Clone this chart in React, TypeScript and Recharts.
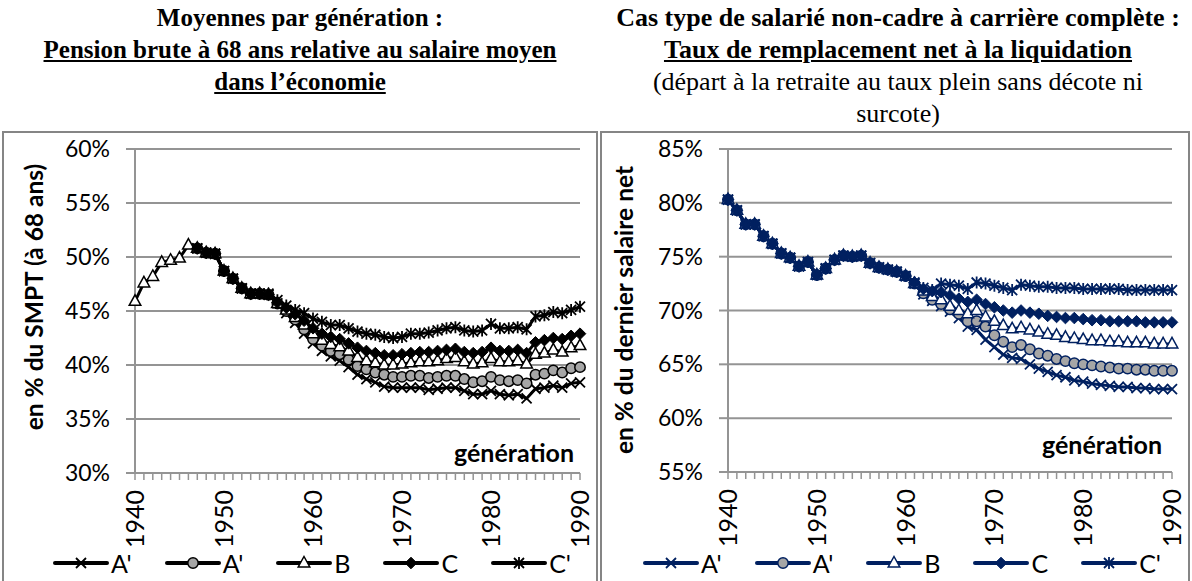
import React from 'react';
import { LineChart, Line, XAxis, YAxis, CartesianGrid, Legend, Label } from 'recharts';

// ---------- categories & ticks ----------
const years = [
  1940, 1941, 1942, 1943, 1944, 1945, 1946, 1947, 1948, 1949,
  1950, 1951, 1952, 1953, 1954, 1955, 1956, 1957, 1958, 1959,
  1960, 1961, 1962, 1963, 1964, 1965, 1966, 1967, 1968, 1969,
  1970, 1971, 1972, 1973, 1974, 1975, 1976, 1977, 1978, 1979,
  1980, 1981, 1982, 1983, 1984, 1985, 1986, 1987, 1988, 1989, 1990,
];
const xLabelYears = [1940, 1950, 1960, 1970, 1980, 1990];
const leftYTicks = [30, 35, 40, 45, 50, 55, 60];
const rightYTicks = [55, 60, 65, 70, 75, 80, 85];

const seriesKeys = ['a1', 'a2', 'b', 'c', 'c2'];
const seriesNames = ["A'", "A'", 'B', 'C', "C'"];
const seriesShapes = ['x', 'circle', 'triangle', 'diamond', 'star'];

// ---------- left chart: pension brute à 68 ans / SMPT (%) ----------
const leftA1 = [
  null, null, null, null, null, null, null, 50.8, 50.4, 50.3,
  48.7, 48.0, 47.1, 46.6, 46.6, 46.5, 45.7, 44.8, 43.9, 42.9,
  42.0, 41.3, 40.8, 40.4, 39.8, 39.1, 38.7, 38.4, 38.0, 37.9,
  37.9, 37.9, 37.9, 37.7, 37.8, 37.9, 37.9, 37.6, 37.3, 37.3,
  37.6, 37.3, 37.2, 37.3, 36.9, 37.8, 37.9, 38.1, 37.9, 38.3, 38.4,
];
const leftA2 = [
  null, null, null, null, null, null, null, 50.8, 50.4, 50.3,
  48.7, 48.0, 47.1, 46.6, 46.6, 46.5, 45.7, 45.0, 44.2, 43.3,
  42.4, 41.8, 41.3, 41.0, 40.5, 39.9, 39.6, 39.3, 39.1, 38.9,
  38.9, 39.0, 39.0, 38.8, 38.9, 39.0, 39.0, 38.7, 38.4, 38.5,
  38.9, 38.6, 38.5, 38.6, 38.3, 39.1, 39.2, 39.5, 39.3, 39.7, 39.8,
];
const leftB = [
  45.9, 47.6, 48.2, 49.5, 49.7, 49.9, 51.1, 50.8, 50.4, 50.3,
  48.7, 48.0, 47.1, 46.6, 46.6, 46.5, 45.7, 45.1, 44.4, 43.7,
  42.9, 42.3, 41.9, 41.7, 41.3, 40.7, 40.4, 40.2, 40.0, 40.0,
  40.1, 40.2, 40.3, 40.3, 40.4, 40.6, 40.7, 40.3, 40.1, 40.2,
  40.6, 40.3, 40.3, 40.4, 40.1, 41.0, 41.1, 41.4, 41.2, 41.6, 41.8,
];
const leftC = [
  null, null, null, null, null, null, null, 50.8, 50.4, 50.3,
  48.7, 48.0, 47.1, 46.6, 46.6, 46.5, 45.8, 45.3, 44.7, 44.1,
  43.4, 42.9, 42.6, 42.4, 42.0, 41.6, 41.3, 41.1, 40.9, 40.9,
  41.0, 41.1, 41.2, 41.2, 41.3, 41.4, 41.5, 41.2, 41.1, 41.2,
  41.6, 41.3, 41.3, 41.4, 41.1, 42.1, 42.3, 42.5, 42.4, 42.7, 42.9,
];
const leftC2 = [
  null, null, null, null, null, null, null, 50.8, 50.4, 50.3,
  48.7, 48.0, 47.1, 46.6, 46.6, 46.6, 46.0, 45.5, 45.1, 44.8,
  44.3, 44.0, 43.7, 43.7, 43.4, 43.1, 42.9, 42.8, 42.6, 42.5,
  42.6, 42.9, 42.9, 43.0, 43.2, 43.4, 43.5, 43.2, 43.1, 43.2,
  43.8, 43.4, 43.4, 43.5, 43.3, 44.5, 44.6, 44.9, 44.8, 45.1, 45.4,
];

// ---------- right chart: taux de remplacement net (%) ----------
const rightA1 = [
  80.3, 79.3, 78.0, 78.0, 76.9, 76.2, 75.3, 74.9, 74.1, 74.5,
  73.3, 73.9, 74.7, 75.1, 75.0, 75.1, 74.4, 74.0, 73.8, 73.6,
  73.2, 72.5, 71.5, 70.9, 70.4, 69.9, 69.3, 68.5, 68.2, 67.3,
  66.6, 65.9, 65.6, 65.5, 65.0, 64.6, 64.3, 64.0, 63.8, 63.5,
  63.4, 63.2, 63.1, 63.0, 62.9, 62.9, 62.8, 62.8, 62.7, 62.7, 62.7,
];
const rightA2 = [
  80.3, 79.3, 78.0, 78.0, 76.9, 76.2, 75.3, 74.9, 74.1, 74.5,
  73.3, 73.9, 74.7, 75.1, 75.0, 75.1, 74.4, 74.0, 73.8, 73.6,
  73.2, 72.5, 71.6, 71.0, 70.6, 70.1, 69.7, 69.0, 69.0, 68.5,
  67.7, 67.1, 66.6, 66.8, 66.4, 66.0, 65.8, 65.5, 65.3, 65.1,
  65.0, 64.9, 64.8, 64.7, 64.6, 64.6, 64.5, 64.5, 64.4, 64.4, 64.4,
];
const rightB = [
  80.3, 79.3, 78.0, 78.0, 76.9, 76.2, 75.3, 74.9, 74.1, 74.5,
  73.3, 73.9, 74.7, 75.1, 75.0, 75.1, 74.4, 74.0, 73.8, 73.6,
  73.2, 72.5, 71.8, 71.3, 71.0, 70.4, 70.0, 69.7, 70.0, 69.4,
  69.0, 68.6, 68.3, 68.4, 68.2, 68.0, 67.8, 67.7, 67.5, 67.4,
  67.3, 67.2, 67.2, 67.1, 67.1, 67.0, 67.0, 67.0, 66.9, 66.9, 66.9,
];
const rightC = [
  80.3, 79.3, 78.0, 78.0, 76.9, 76.2, 75.3, 74.9, 74.1, 74.5,
  73.3, 73.9, 74.7, 75.1, 75.0, 75.1, 74.4, 74.0, 73.8, 73.6,
  73.2, 72.6, 72.0, 71.8, 71.7, 71.4, 71.1, 70.8, 71.0, 70.6,
  70.3, 70.0, 69.8, 70.0, 69.8, 69.7, 69.5, 69.4, 69.3, 69.3,
  69.2, 69.1, 69.1, 69.0, 69.0, 69.0, 69.0, 68.9, 68.9, 68.9, 68.9,
];
const rightC2 = [
  80.3, 79.3, 78.0, 78.0, 76.9, 76.2, 75.3, 74.9, 74.1, 74.5,
  73.3, 73.9, 74.7, 75.1, 75.0, 75.1, 74.4, 74.0, 73.8, 73.6,
  73.2, 72.6, 72.1, 71.9, 72.5, 72.4, 72.3, 72.0, 72.6, 72.5,
  72.3, 72.1, 71.9, 72.4, 72.3, 72.2, 72.2, 72.1, 72.1, 72.1,
  72.0, 72.0, 72.0, 72.0, 72.0, 71.9, 71.9, 71.9, 71.9, 71.9, 71.9,
];

const leftData = years.map((year, i) => ({
  year, a1: leftA1[i], a2: leftA2[i], b: leftB[i], c: leftC[i], c2: leftC2[i],
}));
const rightData = years.map((year, i) => ({
  year, a1: rightA1[i], a2: rightA2[i], b: rightB[i], c: rightC[i], c2: rightC2[i],
}));

// ---------- styling ----------
const SANS = 'Lato, "Open Sans", sans-serif';
const SERIF = '"Liberation Serif", "Times New Roman", serif';
const GRID = '#949494';
const BLACK = '#000000';
const NAVY = '#002060';
const CIRCLE_FILL = '#a6a6a6';

function Marker({ shape, cx, cy, color }: { shape: string; cx: number; cy: number; color: string }) {
  const s = 5;
  switch (shape) {
    case 'x':
      return (
        <path d={`M${cx - s},${cy - s}L${cx + s},${cy + s}M${cx - s},${cy + s}L${cx + s},${cy - s}`}
          stroke={color} strokeWidth={1.8} fill="none" />
      );
    case 'circle':
      return <circle cx={cx} cy={cy} r={5.2} fill={CIRCLE_FILL} stroke={color} strokeWidth={1.5} />;
    case 'triangle':
      return (
        <path d={`M${cx},${cy - 6.5}L${cx + 5.8},${cy + 4}L${cx - 5.8},${cy + 4}Z`}
          fill="#ffffff" stroke={color} strokeWidth={1.5} />
      );
    case 'diamond':
      return (
        <path d={`M${cx},${cy - 5.8}L${cx + 5.8},${cy}L${cx},${cy + 5.8}L${cx - 5.8},${cy}Z`}
          fill={color} stroke={color} strokeWidth={1} />
      );
    case 'star':
    default:
      return (
        <path
          d={`M${cx - s},${cy - s}L${cx + s},${cy + s}M${cx - s},${cy + s}L${cx + s},${cy - s}M${cx},${cy - 6}L${cx},${cy + 6}`}
          stroke={color} strokeWidth={1.8} fill="none" />
      );
  }
}

function makeDot(shape: string, color: string, key: string) {
  return (p: any) => {
    if (p == null || p.cx == null || p.cy == null || p.value == null || p.payload?.[key] == null) {
      return <g key={`${key}-e-${p?.index}`} />;
    }
    return (
      <g key={`${key}-${p.index}`}>
        <Marker shape={shape} cx={p.cx} cy={p.cy} color={color} />
      </g>
    );
  };
}

function XTick(props: any) {
  const { x, y, payload } = props;
  const v = payload?.value;
  if (!xLabelYears.includes(v)) return <g />;
  const ty = y + 8;
  return (
    <text x={x} y={ty} dy="0.36em" textAnchor="end" transform={`rotate(-90 ${x} ${ty})`}
      style={{ fontFamily: SANS, fontSize: 25, fill: '#000' }}>
      {String(v)}
    </text>
  );
}

function makeLegend(color: string) {
  return () => (
    <div style={{ display: 'flex', justifyContent: 'center', alignItems: 'center', gap: 33, fontFamily: SANS, fontSize: 25, color: '#000', lineHeight: '28px' }}>
      {seriesKeys.map((k, i) => (
        <div key={k} style={{ display: 'flex', alignItems: 'center' }}>
          <svg width={56} height={20} style={{ display: 'block' }}>
            <line x1={2} y1={10} x2={54} y2={10} stroke={color} strokeWidth={4} strokeLinecap="round" />
            <Marker shape={seriesShapes[i]} cx={28} cy={10} color={color} />
          </svg>
          <span style={{ marginLeft: 2 }}>{seriesNames[i]}</span>
        </div>
      ))}
    </div>
  );
}

type PanelProps = {
  data: any[];
  width: number;
  yTicks: number[];
  yWidth: number;
  color: string;
  yTitle: string;
  yTitleX: number;
  yTitleY: number;
  yTitleSize: number;
  genX: number;
  genY: number;
  marginBottom: number;
  legendLeft: number;
};

function Panel(p: PanelProps) {
  return (
    <LineChart width={p.width} height={581} data={p.data}
      margin={{ top: 149, right: 20, bottom: p.marginBottom, left: 0 }}>
      <CartesianGrid horizontal vertical={false} stroke={GRID} strokeWidth={2} />
      <XAxis dataKey="year" type="number" domain={[1940, 1990]} ticks={years} interval={0}
        height={60} tick={<XTick />} tickSize={7} tickLine={{ stroke: GRID, strokeWidth: 1.5 }}
        axisLine={{ stroke: GRID, strokeWidth: 2 }}>
        <Label content={() => (
          <text x={p.genX} y={p.genY} textAnchor="end"
            style={{ fontFamily: SANS, fontWeight: 700, fontSize: 25, fill: '#000' }}>génération</text>
        )} />
      </XAxis>
      <YAxis type="number" domain={[p.yTicks[0], p.yTicks[p.yTicks.length - 1]]} ticks={p.yTicks}
        width={p.yWidth} tickFormatter={(v: number) => `${v}%`} tickSize={9} tickMargin={16}
        tick={{ fontFamily: SANS, fontSize: 23, fill: '#000' }}
        tickLine={{ stroke: GRID, strokeWidth: 2 }} axisLine={{ stroke: GRID, strokeWidth: 2 }}>
        <Label content={() => (
          <text x={p.yTitleX} y={p.yTitleY} textAnchor="middle" dy="0.35em"
            transform={`rotate(-90 ${p.yTitleX} ${p.yTitleY})`}
            style={{ fontFamily: SANS, fontWeight: 700, fontSize: p.yTitleSize, fill: '#000' }}>{p.yTitle}</text>
        )} />
      </YAxis>
      <Legend layout="horizontal" verticalAlign="middle" align="center"
        wrapperStyle={{ left: p.legendLeft, top: 549, width: p.width, height: 28 }}
        content={makeLegend(p.color)} />
      {seriesKeys.map((k, i) => (
        <Line key={k} dataKey={k} name={seriesNames[i]} type="linear" stroke={p.color} strokeWidth={3}
          dot={makeDot(seriesShapes[i], p.color, k)} activeDot={false} isAnimationActive={false}
          connectNulls={false} />
      ))}
    </LineChart>
  );
}

const leftBold: React.CSSProperties = { fontFamily: SERIF, fontWeight: 700, fontSize: 25, lineHeight: '32px', whiteSpace: 'nowrap' };
const boldTitle: React.CSSProperties = { fontFamily: SERIF, fontWeight: 700, fontSize: 26, lineHeight: '32px', whiteSpace: 'nowrap' };
const plainTitle: React.CSSProperties = { fontFamily: SERIF, fontWeight: 400, fontSize: 26, lineHeight: '32px', whiteSpace: 'nowrap' };

export default function App() {
  return (
    <div style={{ position: 'absolute', left: 0, top: 0, width: 1192, height: 581, overflow: 'hidden', background: '#fff' }}>
      {/* titles */}
      <div style={{ position: 'absolute', left: 0, top: 2, width: 600, textAlign: 'center' }}>
        <div style={leftBold}>Moyennes par génération :</div>
        <div style={leftBold}><u>Pension brute à 68 ans relative au salaire moyen</u></div>
        <div style={leftBold}><u>dans l’économie</u></div>
      </div>
      <div style={{ position: 'absolute', left: 598, top: 2, width: 600, textAlign: 'center' }}>
        <div style={boldTitle}>Cas type de salarié non-cadre à carrière complète :</div>
        <div style={boldTitle}><u>Taux de remplacement net à la liquidation</u></div>
        <div style={plainTitle}>(départ à la retraite au taux plein sans décote ni</div>
        <div style={plainTitle}>surcote)</div>
      </div>
      {/* panel frames */}
      <div style={{ position: 'absolute', left: 2, top: 131, width: 592, height: 470, border: '2px solid #858585' }} />
      <div style={{ position: 'absolute', left: 600, top: 131, width: 586, height: 470, border: '2px solid #858585' }} />
      {/* charts */}
      <div style={{ position: 'absolute', left: 0, top: 0 }}>
        <Panel data={leftData} width={600} yTicks={leftYTicks} yWidth={135} color={BLACK}
          yTitle="en % du SMPT (à 68 ans)" yTitleX={34} yTitleY={297} yTitleSize={24.5}
          genX={574} genY={462} marginBottom={48} legendLeft={12} />
      </div>
      <div style={{ position: 'absolute', left: 600, top: 0 }}>
        <Panel data={rightData} width={592} yTicks={rightYTicks} yWidth={128} color={NAVY}
          yTitle="en % du dernier salaire net" yTitleX={24} yTitleY={310} yTitleSize={24.5}
          genX={562} genY={454} marginBottom={49} legendLeft={6} />
      </div>
    </div>
  );
}
